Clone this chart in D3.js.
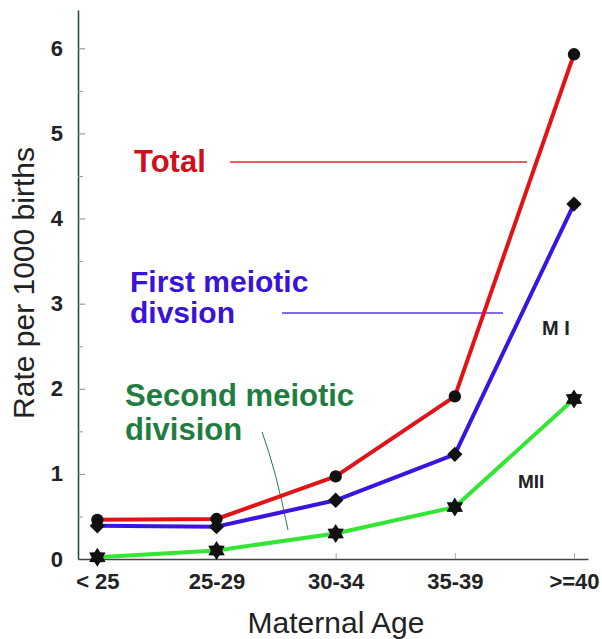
<!DOCTYPE html>
<html lang="en">
<head>
    <meta charset="UTF-8">
    <title>Maternal age rates</title>
    <script src="https://d3js.org/d3.v7.min.js"></script>
    <style>
        body { margin: 0; background: #fff; }
        svg { font-family: "Liberation Sans", Arial, sans-serif; }
    </style>
</head>
<body>
    <div id="chart"></div>

    <script>
        // Data
        const ages = ["< 25", "25-29", "30-34", "35-39", ">=40"];
        const total = [0.46, 0.47, 0.97, 1.91, 5.93];
        const firstDivision = [0.39, 0.38, 0.69, 1.23, 4.17];
        const secondDivision = [0.02, 0.10, 0.30, 0.61, 1.88];
        const yTicks = [0, 1, 2, 3, 4, 5, 6];
        const yMinorTicks = [0.5, 1.5, 2.5, 3.5, 4.5, 5.5];

        const width = 602, height = 639;

        const svg = d3.select("#chart")
            .append("svg")
            .attr("width", width)
            .attr("height", height);

        // scales
        const x = d3.scalePoint()
            .domain(ages)
            .range([78, 588])
            .padding(0.14)
            .align(0.58);

        const y = d3.scaleLinear()
            .domain([0, 6.45])
            .range([559, 10]);

        // Y axis (ticks point inward)
        const yAxis = svg.append("g")
            .attr("transform", "translate(78,0)")
            .call(d3.axisLeft(y).tickValues(yTicks).tickFormat(d3.format("d"))
                .tickSize(-7).tickSizeOuter(0).tickPadding(15));
        yAxis.select(".domain").attr("stroke", "#2a4a48").attr("stroke-width", 1.6);
        yAxis.selectAll(".tick line").attr("stroke", "#888");
        yAxis.selectAll(".tick text").attr("font-size", 22);

        svg.append("g")
            .attr("transform", "translate(78,0)")
            .call(d3.axisLeft(y).tickValues(yMinorTicks).tickFormat("")
                .tickSize(-5).tickSizeOuter(0))
            .call(g => g.select(".domain").remove())
            .selectAll(".tick line").attr("stroke", "#999");

        // X axis (ticks point up)
        const xAxis = svg.append("g")
            .attr("transform", `translate(0,${y(0)})`)
            .call(d3.axisBottom(x).tickSize(-6).tickSizeOuter(0).tickPadding(14));
        xAxis.select(".domain").attr("stroke", "#444").attr("stroke-width", 1.6);
        xAxis.selectAll(".tick line").attr("stroke", "#aaa");
        xAxis.selectAll(".tick text").attr("font-size", 22);

        svg.selectAll(".tick text")
            .attr("font-weight", "bold")
            .attr("fill", "#222");

        // axis titles
        svg.append("text")
            .attr("x", 336)
            .attr("y", 633)
            .attr("text-anchor", "middle")
            .attr("font-size", 30)
            .attr("fill", "#222")
            .text("Maternal Age");

        svg.append("text")
            .attr("transform", "translate(34,283) rotate(-90)")
            .attr("text-anchor", "middle")
            .attr("font-size", 30)
            .attr("fill", "#222")
            .text("Rate per 1000 births");

        // 6-point star marker
        const star6 = {
            draw(context, size) {
                const r = Math.sqrt(size) * 0.75;
                const ri = r * 0.6;
                for (let i = 0; i < 12; i++) {
                    const a = -Math.PI / 2 + i * Math.PI / 6;
                    const rr = i % 2 === 0 ? r : ri;
                    if (i === 0) context.moveTo(rr * Math.cos(a), rr * Math.sin(a));
                    else context.lineTo(rr * Math.cos(a), rr * Math.sin(a));
                }
                context.closePath();
            }
        };

        const series = [
            { values: total, color: "#e01418", symbol: d3.symbolCircle, size: 120 },
            { values: firstDivision, color: "#3a14e0", symbol: d3.symbolDiamond2, size: 150 },
            { values: secondDivision, color: "#33e633", symbol: star6, size: 160 }
        ];

        const line = d3.line()
            .x((d, i) => x(ages[i]))
            .y(d => y(d));

        // annotation leader lines
        svg.append("line")
            .attr("x1", 230).attr("y1", 162).attr("x2", 527).attr("y2", 162)
            .attr("stroke", "#e0282c").attr("stroke-width", 1.5);
        svg.append("line")
            .attr("x1", 282).attr("y1", 313).attr("x2", 503).attr("y2", 313)
            .attr("stroke", "#5a3ae0").attr("stroke-width", 1.5);
        svg.append("path")
            .attr("d", "M262,432 Q276,470 288,530")
            .attr("fill", "none")
            .attr("stroke", "#2a7a4a").attr("stroke-width", 1);

        series.forEach(s => {
            svg.append("path")
                .datum(s.values)
                .attr("d", line)
                .attr("fill", "none")
                .attr("stroke", s.color)
                .attr("stroke-width", 4)
                .attr("stroke-linejoin", "round");
        });

        series.forEach(s => {
            svg.selectAll(null)
                .data(s.values)
                .enter()
                .append("path")
                .attr("transform", (d, i) => `translate(${x(ages[i])},${y(d)})`)
                .attr("d", d3.symbol().type(s.symbol).size(s.size))
                .attr("fill", "#111");
        });

        // labels
        svg.append("text")
            .attr("x", 134).attr("y", 172)
            .attr("font-size", 31).attr("font-weight", "bold")
            .attr("fill", "#d0101c")
            .text("Total");

        const firstLabel = svg.append("text")
            .attr("font-size", 30).attr("font-weight", "bold")
            .attr("fill", "#3a12d8");
        firstLabel.append("tspan").attr("x", 130).attr("y", 292).text("First meiotic");
        firstLabel.append("tspan").attr("x", 130).attr("y", 323).text("divsion");

        const secondLabel = svg.append("text")
            .attr("font-size", 31).attr("font-weight", "bold")
            .attr("fill", "#1f7d40");
        secondLabel.append("tspan").attr("x", 125).attr("y", 406).text("Second meiotic");
        secondLabel.append("tspan").attr("x", 125).attr("y", 440).text("division");

        svg.append("text")
            .attr("x", 542).attr("y", 335)
            .attr("font-size", 20).attr("font-weight", "bold")
            .attr("fill", "#222")
            .text("M I");

        svg.append("text")
            .attr("x", 518).attr("y", 488)
            .attr("font-size", 19).attr("font-weight", "bold")
            .attr("fill", "#222")
            .text("MII");
    </script>
</body>
</html>
